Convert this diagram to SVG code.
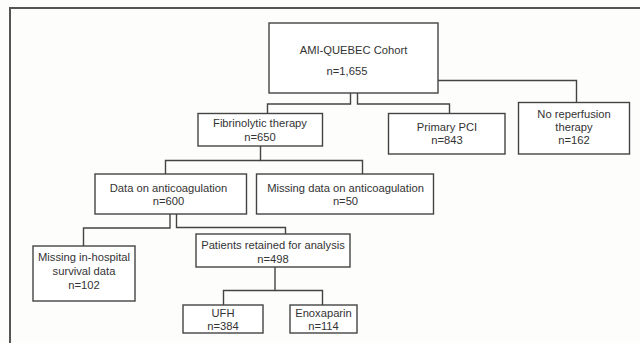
<svg xmlns="http://www.w3.org/2000/svg" width="640" height="343" viewBox="0 0 640 343">
<style>
.bg{fill:#fdfdfc}
.frame{fill:none;stroke:#555;stroke-width:2}
.box{fill:#ffffff;stroke:#444;stroke-width:1.4}
.conn{fill:none;stroke:#444;stroke-width:1.4}
text{font-family:"Liberation Sans",Arial,sans-serif;font-size:11.2px;fill:#333;text-anchor:middle}
</style>
<rect class="bg" x="0" y="0" width="640" height="343"/>
<path class="frame" d="M10,343 V8 H640"/>
<g id="connectors">
<path class="conn" d="M350.5,93 V104 H267.5 V113.5"/>
<path class="conn" d="M357.5,93 V104 H449.5 V113.5"/>
<path class="conn" d="M438,80.5 H576.5 V102.5"/>
<path class="conn" d="M260.5,146 V160.5 H165.5 V174"/>
<path class="conn" d="M260.5,160.5 H362.5 V174"/>
<path class="conn" d="M170,214 V228 H83.5 V246"/>
<path class="conn" d="M176.5,214 V227.5 H285.5 V234"/>
<path class="conn" d="M275,267 V290.5 H223.5 V305"/>
<path class="conn" d="M275,290.5 H322.5 V305"/>
</g>
<g id="ami">
<rect class="box" x="269" y="23" width="169" height="70"/>
<text x="353.5" y="54">AMI-QUEBEC Cohort</text>
<text x="347" y="74.5">n=1,655</text>
</g>
<g id="fibrinolytic">
<rect class="box" x="198" y="113.5" width="124.5" height="32.5"/>
<text x="260" y="126.5">Fibrinolytic therapy</text>
<text x="260" y="141">n=650</text>
</g>
<g id="pci">
<rect class="box" x="388.5" y="113.5" width="116.5" height="40.5"/>
<text x="447" y="131">Primary PCI</text>
<text x="447" y="144">n=843</text>
</g>
<g id="noreperfusion">
<rect class="box" x="518.5" y="102.5" width="111" height="51.5"/>
<text x="574" y="118">No reperfusion</text>
<text x="574" y="131">therapy</text>
<text x="574" y="144">n=162</text>
</g>
<g id="dataanticoag">
<rect class="box" x="95" y="174" width="151.5" height="40"/>
<text x="168.5" y="192">Data on anticoagulation</text>
<text x="168.5" y="205">n=600</text>
</g>
<g id="missinganticoag">
<rect class="box" x="256.5" y="174" width="177" height="40"/>
<text x="345.5" y="192">Missing data on anticoagulation</text>
<text x="345.5" y="205">n=50</text>
</g>
<g id="missingsurvival">
<rect class="box" x="33" y="246" width="102" height="55"/>
<text x="84" y="261">Missing in-hospital</text>
<text x="84" y="275">survival data</text>
<text x="84" y="289">n=102</text>
</g>
<g id="retained">
<rect class="box" x="196" y="234" width="154" height="33"/>
<text x="273" y="249">Patients retained for analysis</text>
<text x="273" y="263">n=498</text>
</g>
<g id="ufh">
<rect class="box" x="183" y="305" width="80" height="28"/>
<text x="223" y="317">UFH</text>
<text x="223" y="330">n=384</text>
</g>
<g id="enoxaparin">
<rect class="box" x="290" y="305" width="67" height="28"/>
<text x="323.5" y="317">Enoxaparin</text>
<text x="323.5" y="330">n=114</text>
</g>
</svg>
